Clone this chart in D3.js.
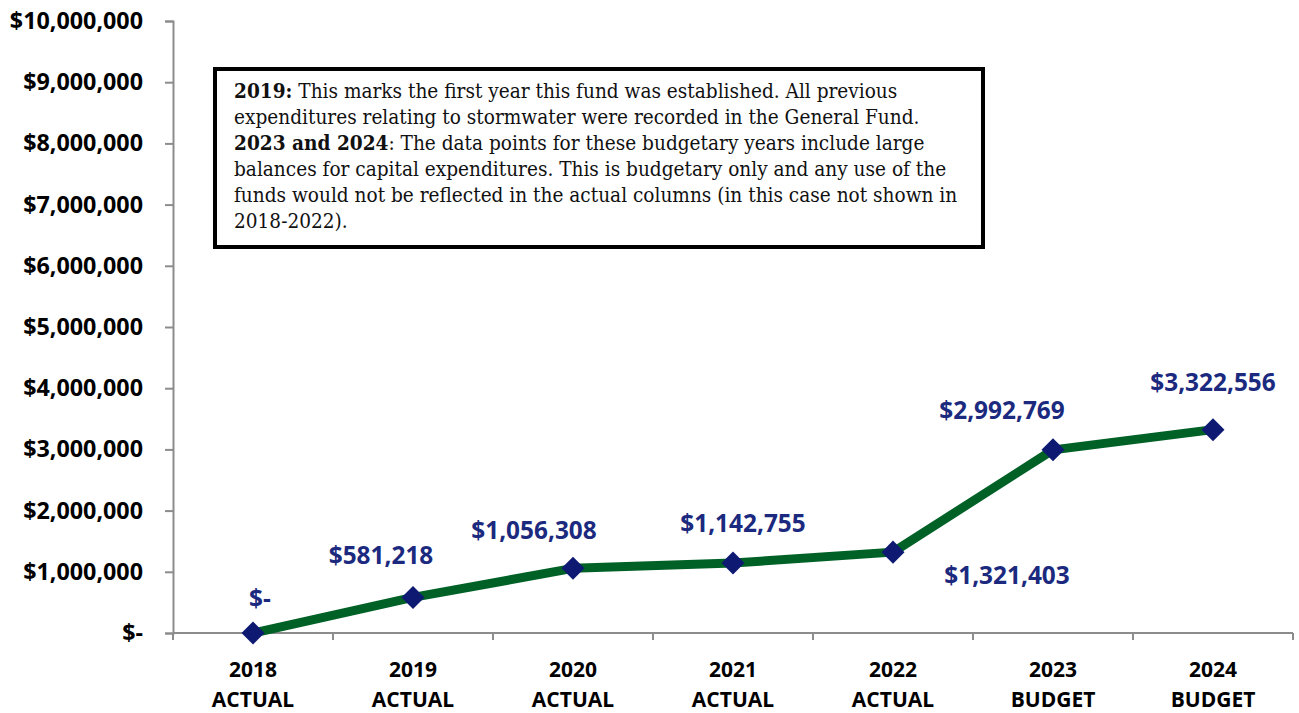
<!DOCTYPE html>
<html>
<head>
<meta charset="utf-8">
<script src="https://cdn.jsdelivr.net/npm/d3@7"></script>
<style>
  html, body { margin: 0; padding: 0; background: #fff; }
  svg { display: block; }
</style>
</head>
<body>
<svg id="chart" width="1299" height="713"></svg>
<script>
// ---- data ----
const years = ["2018", "2019", "2020", "2021", "2022", "2023", "2024"];
const kinds = ["ACTUAL", "ACTUAL", "ACTUAL", "ACTUAL", "ACTUAL", "BUDGET", "BUDGET"];
const values = [0, 581218, 1056308, 1142755, 1321403, 2992769, 3322556];
const yTicks = [0, 1000000, 2000000, 3000000, 4000000, 5000000, 6000000, 7000000, 8000000, 9000000, 10000000];
// label placement relative to each point (dx, dy) in px
const labelDx = [7, -32, -39, 10, 114, -51, 0];
const labelDy = [-35, -42, -38, -40, 23, -40, -47];
const noteLines = [
  [{b: "2019:"}, {t: " This marks the first year this fund was established. All previous"}],
  [{t: "expenditures relating to stormwater were recorded in the General Fund."}],
  [{b: "2023 and 2024"}, {t: ": The data points for these budgetary years include large"}],
  [{t: "balances for capital expenditures. This is budgetary only and any use of the"}],
  [{t: "funds would not be reflected in the actual columns (in this case not shown in"}],
  [{t: "2018-2022)."}]
];

// ---- layout ----
const svg = d3.select("#chart");
const m = {left: 173, right: 1293, top: 21, bottom: 633};
const x = d3.scaleBand().domain(years).range([m.left, m.right]);
const y = d3.scaleLinear().domain([0, 10000000]).range([m.bottom, m.top]);
const axisColor = "#8c8c8c";
const labelFont = "'Open Sans', sans-serif";

const fmt = v => v === 0 ? "$-" : "$" + d3.format(",")(v);

// y axis
const yAxis = svg.append("g").attr("transform", `translate(${m.left},0)`)
  .call(d3.axisLeft(y).tickValues(yTicks).tickSize(8).tickPadding(22).tickFormat(fmt));
yAxis.select(".domain").attr("stroke", axisColor).attr("stroke-width", 2);
yAxis.selectAll(".tick line").attr("stroke", axisColor).attr("stroke-width", 2);
yAxis.selectAll(".tick text")
  .attr("font-family", labelFont).attr("font-weight", 700).attr("font-size", 23.3)
  .attr("fill", "#000");

// x axis
const xAxisG = svg.append("g").attr("transform", `translate(0,${m.bottom})`);
xAxisG.append("line").attr("x1", m.left).attr("x2", m.right)
  .attr("stroke", axisColor).attr("stroke-width", 2);
const bounds = years.map(d => x(d)).concat([x(years[years.length - 1]) + x.bandwidth()]);
xAxisG.selectAll("line.tk").data(bounds).enter().append("line").attr("class", "tk")
  .attr("x1", d => d).attr("x2", d => d).attr("y1", 0).attr("y2", 7)
  .attr("stroke", axisColor).attr("stroke-width", 2);
const cat = xAxisG.selectAll("text.cat").data(years).enter().append("text").attr("class", "cat")
  .attr("x", d => x(d) + x.bandwidth() / 2)
  .attr("font-family", labelFont).attr("font-weight", 700).attr("font-size", 21)
  .attr("text-anchor", "middle").attr("fill", "#000");
cat.append("tspan").attr("x", d => x(d) + x.bandwidth() / 2).attr("y", 44).text(d => d);
cat.append("tspan").attr("x", d => x(d) + x.bandwidth() / 2).attr("y", 74).text((d, i) => kinds[i]);

// line
const cx = d => x(d) + x.bandwidth() / 2;
svg.append("path").datum(values)
  .attr("d", d3.line().x((d, i) => cx(years[i])).y(d => y(d)))
  .attr("fill", "none").attr("stroke", "#006127").attr("stroke-width", 9)
  .attr("stroke-linejoin", "round");

// markers
svg.selectAll("path.mk").data(values).enter().append("path").attr("class", "mk")
  .attr("d", d3.symbol().type(d3.symbolSquare).size(265))
  .attr("transform", (d, i) => `translate(${cx(years[i])},${y(d)}) rotate(45)`)
  .attr("fill", "#0e1a72");

// data labels
svg.selectAll("text.dl").data(values).enter().append("text").attr("class", "dl")
  .attr("x", (d, i) => cx(years[i]) + labelDx[i])
  .attr("y", (d, i) => y(d) + labelDy[i])
  .attr("dy", "0.36em")
  .attr("text-anchor", "middle")
  .attr("font-family", labelFont).attr("font-weight", 700).attr("font-size", 24.4)
  .attr("fill", "#1b2a7e")
  .text(fmt);

// note box
const box = {x: 215, y: 69, w: 768, h: 178};
svg.append("rect").attr("x", box.x).attr("y", box.y).attr("width", box.w).attr("height", box.h)
  .attr("fill", "#fff").attr("stroke", "#000").attr("stroke-width", 4);
const note = svg.append("g");
noteLines.forEach((parts, i) => {
  const t = note.append("text").attr("x", 234).attr("y", 98 + i * 25.9)
    .attr("font-family", "'DejaVu Serif Condensed', 'DejaVu Serif', serif")
    .attr("font-stretch", "condensed")
    .attr("font-size", 20.6).attr("fill", "#111");
  parts.forEach(p => {
    t.append("tspan").attr("font-weight", p.b ? 700 : 400).text(p.b || p.t);
  });
});
</script>
</body>
</html>
